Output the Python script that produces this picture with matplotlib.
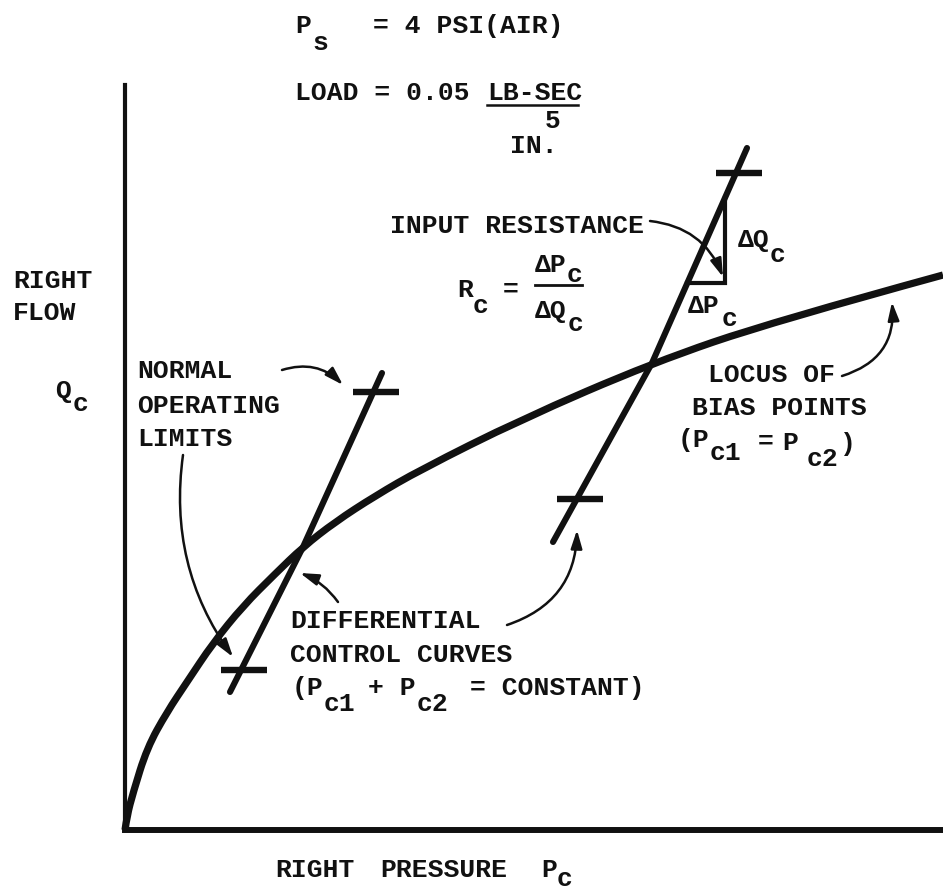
import numpy as np
import matplotlib
matplotlib.use("Agg")
import matplotlib.pyplot as plt
from matplotlib.patches import FancyArrowPatch, PathPatch
from matplotlib.path import Path

# Locus of bias points (Pc1 = Pc2): right pressure vs right flow
locus_p = [0, 2, 8, 22, 42, 62, 88, 118, 150, 178, 210, 250, 295, 395, 527, 650, 818]
locus_q = [0, 14, 37, 82, 118, 148, 187, 224, 256, 283, 308, 334, 360, 410, 467, 509, 555]

# Differential control curves (Pc1 + Pc2 = constant)
ctrl_low_p = [105, 178, 257]
ctrl_low_q = [138, 283, 457]
ctrl_high_p = [428, 527, 622]
ctrl_high_q = [288, 467, 682]

# Normal operating limits (flow level on each control curve)
limits_low_q = [160, 438]
limits_high_q = [331, 657]

# Input resistance triangle on the upper control curve
tri_q_base = 547
tri_p_right = 600

INK = "#111111"
FONT = ["Liberation Mono", "DejaVu Sans Mono"]
FS = 19

fig = plt.figure(figsize=(9.43, 8.91), dpi=100)
ax = fig.add_axes([125 / 943, 61 / 891, 818 / 943, 745 / 891])
ax.set_xlim(0, 818)
ax.set_ylim(0, 745)
for s in ("top", "right"):
    ax.spines[s].set_visible(False)
ax.spines["left"].set_linewidth(3.0)
ax.spines["bottom"].set_linewidth(4.3)
ax.spines["left"].set_color(INK)
ax.spines["bottom"].set_color(INK)
ax.set_xticks([])
ax.set_yticks([])


def smooth_path(xs, ys):
    """Quadratic B-spline style path through the given points."""
    pts = np.column_stack([xs, ys]).astype(float)
    verts = [pts[0]]
    codes = [Path.MOVETO]
    n = len(pts)
    for i in range(1, n - 1):
        end = pts[i + 1] if i == n - 2 else (pts[i] + pts[i + 1]) / 2
        verts += [pts[i], end]
        codes += [Path.CURVE3, Path.CURVE3]
    return Path(verts, codes)


# bias-point locus
ax.add_patch(PathPatch(smooth_path(locus_p, locus_q), fill=False,
                       edgecolor=INK, lw=5.2, capstyle="butt",
                       joinstyle="round", clip_on=False))

# control curves with their operating-limit bars
for cp, cq, lims in ((ctrl_low_p, ctrl_low_q, limits_low_q),
                     (ctrl_high_p, ctrl_high_q, limits_high_q)):
    ax.plot(cp, cq, color=INK, lw=4.4, solid_capstyle="round",
            solid_joinstyle="round")
    for lq in lims:
        lp = np.interp(lq, cq, cp)
        ax.plot([lp - 20, lp + 26], [lq, lq], color=INK, lw=4.6,
                solid_capstyle="butt")

# delta-P / delta-Q triangle
p0 = np.interp(tri_q_base, ctrl_high_q, ctrl_high_p)
q1 = np.interp(tri_p_right, ctrl_high_p, ctrl_high_q)
ax.plot([p0, tri_p_right, tri_p_right], [tri_q_base, tri_q_base, q1],
        color=INK, lw=3.0, solid_joinstyle="miter")


def arrow(start, end, rad):
    ax.add_patch(FancyArrowPatch(
        start, end, connectionstyle=f"arc3,rad={rad}",
        arrowstyle="-|>,head_length=0.55,head_width=0.17",
        mutation_scale=20, lw=1.8, color=INK,
        shrinkA=0, shrinkB=0, clip_on=False))


arrow((525, 609), (598, 553), -0.3)   # input resistance
arrow((157, 460), (218, 445), -0.3)   # upper operating limit
arrow((58, 375), (108, 173), 0.2)     # lower operating limit
arrow((213, 228), (175, 257), 0.15)   # control curve (left)
arrow((382, 205), (452, 300), 0.35)   # control curve (right)
arrow((717, 454), (767, 528), 0.4)    # bias locus


def label(x, y, s):
    ax.text(x, y, s, fontsize=FS, family=FONT, weight="bold", color=INK,
            ha="left", va="baseline")


def P(px, py, s):
    # place text by left edge / baseline measured from the plot origin
    label(px - 125, 830 - py, s)


# header
P(295, 33, "P")
P(312, 50, "s")
P(373, 33, "= 4 PSI(AIR)")
P(295, 100, "LOAD = 0.05")
P(487, 100, "LB-SEC")
ax.plot([362, 453], [725, 725], color=INK, lw=1.8, clip_on=False)
P(510, 153, "IN.")
P(545, 128, "5")

# input resistance
P(390, 233, "INPUT RESISTANCE")
P(457, 297, "R")
P(473, 313, "c")
P(503, 297, "=")
P(535, 272, "ΔP")
P(567, 282, "c")
ax.plot([410, 457], [545, 545], color=INK, lw=2.0, clip_on=False)
P(535, 318, "ΔQ")
P(568, 331, "c")
P(738, 247, "ΔQ")
P(770, 262, "c")
P(688, 313, "ΔP")
P(722, 326, "c")

# y label
P(13, 288, "RIGHT")
P(13, 320, "FLOW")
P(55, 398, "Q")
P(73, 411, "c")

# operating limits
P(137, 378, "NORMAL")
P(137, 413, "OPERATING")
P(137, 446, "LIMITS")

# locus label
P(708, 382, "LOCUS OF")
P(692, 415, "BIAS POINTS")
P(678, 447, "(P")
P(710, 460, "c1")
P(758, 449, "=")
P(782, 450, "P")
P(807, 466, "c2")
P(840, 451, ")")

# control-curve label
P(290, 628, "DIFFERENTIAL")
P(290, 662, "CONTROL CURVES")
P(292, 695, "(P")
P(324, 711, "c1")
P(368, 695, "+ P")
P(417, 711, "c2")
P(470, 695, "= CONSTANT)")

# x label
P(275, 877, "RIGHT")
P(380, 877, "PRESSURE")
P(541, 877, "P")
P(557, 886, "c")

fig.savefig("out.png", dpi=100, facecolor="white")
